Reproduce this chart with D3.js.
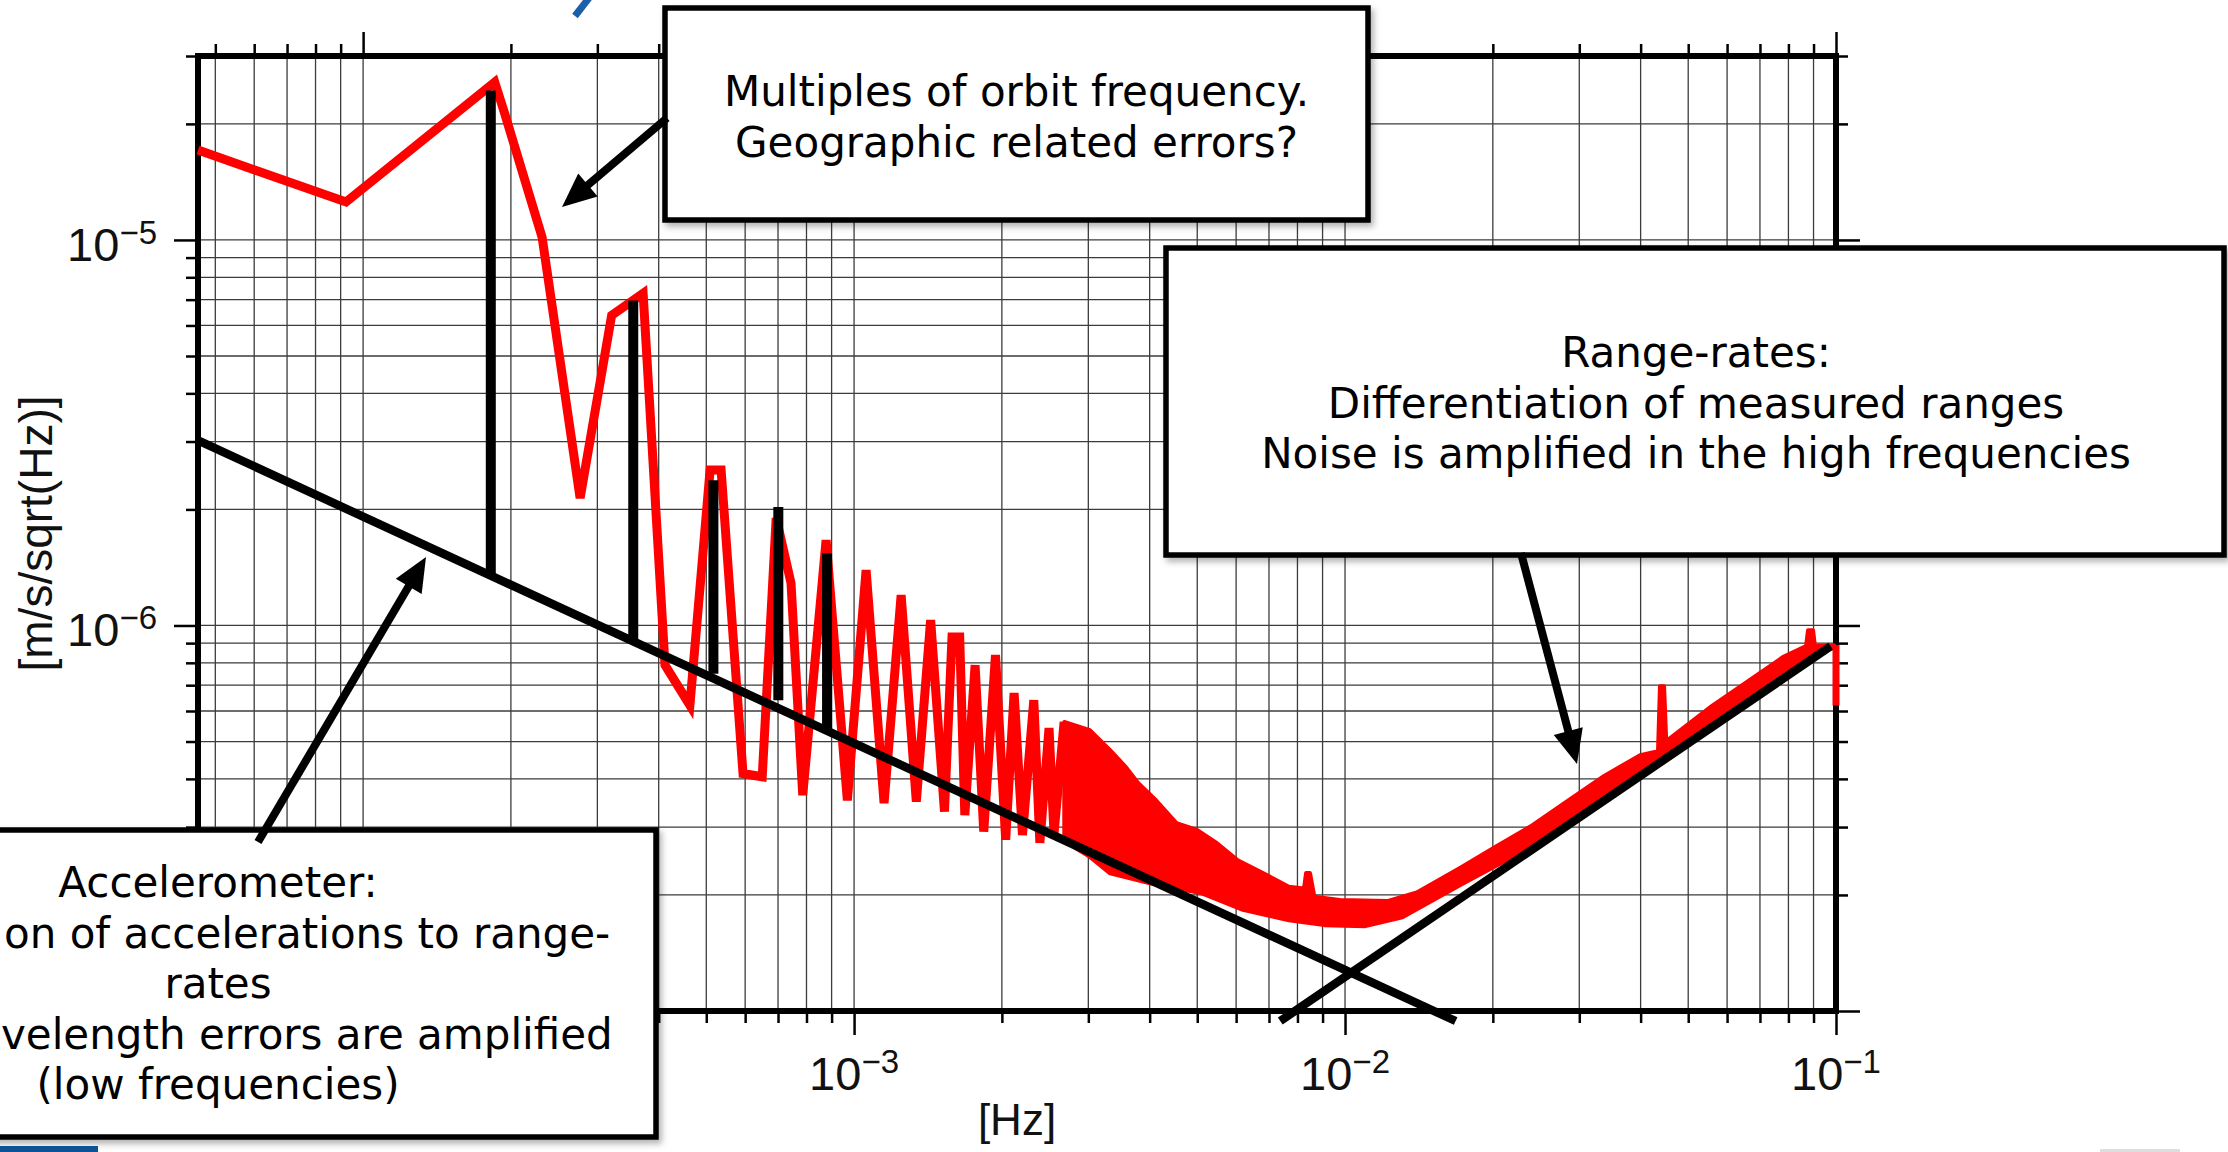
<!DOCTYPE html>
<html>
<head>
<meta charset="utf-8">
<script src="https://cdn.jsdelivr.net/npm/d3@7"></script>
<style>
  body { margin: 0; background: #fff; }
  svg { display: block; }
</style>
</head>
<body>
<svg id="chart"></svg>
<script>
// ---- data ----
var xDomain = [4.61e-5, 1e-1];          // [Hz]
var yDomain = [1e-7, 3e-5];             // [m/s/sqrt(Hz)]
var xLabelled = [1e-3, 1e-2, 1e-1];
var yLabelled = [1e-6, 1e-5];

// range-rate PSD, low frequency part (individual wiggles)
var psdLow = [
  [4.61e-5, 1.71e-5], [9.23e-5, 1.254e-5], [1.854e-4, 2.566e-5], [1.942e-4, 2.13e-5],
  [2.315e-4, 1.017e-5], [2.767e-4, 2.14e-6], [3.208e-4, 6.375e-6], [3.718e-4, 7.27e-6],
  [4.12e-4, 7.89e-7], [4.63e-4, 6.21e-7], [5.09e-4, 2.53e-6], [5.36e-4, 2.53e-6],
  [5.94e-4, 4.13e-7], [6.50e-4, 4.05e-7], [6.94e-4, 1.90e-6], [7.44e-4, 1.288e-6],
  [7.86e-4, 3.63e-7], [8.77e-4, 1.664e-6], [9.69e-4, 3.52e-7], [1.058e-3, 1.391e-6],
  [1.151e-3, 3.46e-7], [1.247e-3, 1.199e-6], [1.339e-3, 3.49e-7], [1.432e-3, 1.032e-6],
  [1.528e-3, 3.29e-7], [1.583e-3, 9.34e-7], [1.641e-3, 9.34e-7], [1.681e-3, 3.22e-7],
  [1.764e-3, 7.89e-7], [1.837e-3, 2.92e-7], [1.941e-3, 8.38e-7], [2.036e-3, 2.78e-7],
  [2.118e-3, 6.68e-7], [2.203e-3, 2.86e-7], [2.323e-3, 6.40e-7], [2.39e-3, 2.73e-7],
  [2.495e-3, 5.42e-7], [2.554e-3, 2.89e-7], [2.678e-3, 5.62e-7]
];

// dense part: upper and lower envelope of the noisy PSD
var psdBandUpper = [
  [2.68e-3, 5.62e-7], [3.022e-3, 5.35e-7], [3.323e-3, 4.75e-7], [3.573e-3, 4.30e-7],
  [3.793e-3, 3.90e-7], [4.121e-3, 3.52e-7], [4.537e-3, 3.07e-7], [4.995e-3, 2.95e-7],
  [5.495e-3, 2.72e-7], [6.047e-3, 2.46e-7], [6.82e-3, 2.275e-7], [7.685e-3, 2.10e-7],
  [8.25e-3, 2.08e-7], [8.33e-3, 2.28e-7], [8.485e-3, 2.28e-7], [8.66e-3, 1.98e-7],
  [9.76e-3, 1.94e-7], [1.224e-2, 1.93e-7], [1.40e-2, 2.03e-7], [1.714e-2, 2.35e-7],
  [2.03e-2, 2.67e-7], [2.404e-2, 3.03e-7], [2.845e-2, 3.51e-7], [3.37e-2, 4.07e-7],
  [3.99e-2, 4.61e-7], [4.34e-2, 4.72e-7], [4.38e-2, 6.96e-7], [4.465e-2, 6.96e-7],
  [4.51e-2, 5.01e-7], [5.59e-2, 6.19e-7], [6.62e-2, 7.17e-7], [7.83e-2, 8.31e-7],
  [8.69e-2, 8.84e-7], [8.77e-2, 9.72e-7], [8.98e-2, 9.72e-7], [9.06e-2, 8.84e-7],
  [9.91e-2, 8.89e-7]
];
var psdBandLower = [
  [2.68e-3, 2.86e-7], [2.818e-3, 2.65e-7], [3.022e-3, 2.51e-7], [3.323e-3, 2.275e-7],
  [4.025e-3, 2.14e-7], [5.11e-3, 2.02e-7], [6.195e-3, 1.83e-7], [7.685e-3, 1.72e-7],
  [9.08e-3, 1.67e-7], [1.10e-2, 1.66e-7], [1.309e-2, 1.75e-7], [1.714e-2, 2.12e-7],
  [2.404e-2, 2.67e-7], [3.37e-2, 3.58e-7], [3.99e-2, 4.15e-7], [5.59e-2, 5.69e-7],
  [7.83e-2, 7.63e-7], [9.59e-2, 8.66e-7], [9.91e-2, 8.75e-7]
];
var psdTail = [[1e-1, 8.9e-7], [1e-1, 6.2e-7]];

// noise models
var accelNoise = [[4.61e-5, 3.02e-6], [1.68e-2, 9.42e-8]];
var rangeNoise = [[7.38e-3, 9.42e-8], [9.75e-2, 8.83e-7]];

// multiples of orbit frequency
var orbitFreq   = [1.82e-4, 3.55e-4, 5.17e-4, 7.01e-4, 8.81e-4];
var orbitTop    = [2.44e-5, 6.97e-6, 2.38e-6, 2.03e-6, 1.54e-6];
var orbitBottom = [1.35e-6, 9.0e-7, 7.5e-7, 6.4e-7, 5.4e-7];

var xTitle = "[Hz]";
var yTitle = "[m/s/sqrt(Hz)]";
// the accelerometer box runs off the left edge of the slide: only these parts show
var noteAccel = ["Accelerometer:", "on of accelerations to range-", "rates",
                 "velength errors are amplified", "(low frequencies)"];
var noteOrbit = ["Multiples of orbit frequency.", "Geographic related errors?"];
var noteRange = ["Range-rates:", "Differentiation of measured ranges",
                 "Noise is amplified in the high frequencies"];

// ---- layout ----
var W = 2228, H = 1152;
var plot = {left: 198, right: 1836, top: 56, bottom: 1011};
var boxes = [
  {x0: -220, y0: 830, x1: 656, y1: 1137, cx: 218, base: 897, lines: noteAccel,
   leftAligned: {1: 4, 3: 1}},
  {x0: 665, y0: 8, x1: 1368, y1: 220, cx: 1016.5, base: 106, lines: noteOrbit},
  {x0: 1166, y0: 248, x1: 2224, y1: 555, cx: 1696, base: 367, lines: noteRange}
];
var arrows = [
  {from: [667, 118], to: [562, 207]},
  {from: [258, 842], to: [426, 557]},
  {from: [1521, 553], to: [1577, 764]}
];

var svg = d3.select("#chart").attr("width", W).attr("height", H)
    .attr("viewBox", "0 0 " + W + " " + H);

var defs = svg.append("defs");
var shadow = defs.append("filter").attr("id", "shadow")
    .attr("x", "-5%").attr("y", "-5%").attr("width", "115%").attr("height", "120%");
shadow.append("feDropShadow").attr("dx", 3).attr("dy", 4)
    .attr("stdDeviation", 3).attr("flood-color", "#000").attr("flood-opacity", 0.3);

var x = d3.scaleLog().domain(xDomain).range([plot.left, plot.right]);
var y = d3.scaleLog().domain(yDomain).range([plot.bottom, plot.top]);

function isDecade(v) {
  var l = Math.log10(v);
  return Math.abs(l - Math.round(l)) < 1e-6;
}
var xTicks = x.ticks(), yTicks = y.ticks();
var xMajor = xTicks.filter(isDecade), xMinor = xTicks.filter(function(d) { return !isDecade(d); });
var yMajor = yTicks.filter(isDecade), yMinor = yTicks.filter(function(d) { return !isDecade(d); });

/*
 *    G R I D
 */
var grid = svg.append("g").attr("stroke", "#3c3c3c").attr("stroke-width", 1.3);
grid.selectAll(".gx").data(xTicks).enter().append("line")
    .attr("x1", function(d) { return x(d); }).attr("x2", function(d) { return x(d); })
    .attr("y1", plot.top).attr("y2", plot.bottom);
grid.selectAll(".gy").data(yTicks).enter().append("line")
    .attr("y1", function(d) { return y(d); }).attr("y2", function(d) { return y(d); })
    .attr("x1", plot.left).attr("x2", plot.right);

/*
 *    T I C K S  (all four sides, outward)
 */
function ticks(axis, values, size, tx, ty) {
  var g = svg.append("g").attr("transform", "translate(" + tx + "," + ty + ")")
      .call(axis.tickValues(values).tickSize(size).tickFormat(""));
  g.select(".domain").remove();
  g.selectAll("line").attr("stroke", "#000").attr("stroke-width", 2.5);
}
ticks(d3.axisBottom(x), xMinor, 12, 0, plot.bottom);
ticks(d3.axisBottom(x), xMajor, 24, 0, plot.bottom);
ticks(d3.axisTop(x), xMinor, 12, 0, plot.top);
ticks(d3.axisTop(x), xMajor, 24, 0, plot.top);
ticks(d3.axisLeft(y), yMinor, 12, plot.left, 0);
ticks(d3.axisLeft(y), yMajor, 24, plot.left, 0);
ticks(d3.axisRight(y), yMinor, 12, plot.right, 0);
ticks(d3.axisRight(y), yMajor, 24, plot.right, 0);

// frame
svg.append("rect")
    .attr("x", plot.left).attr("y", plot.top)
    .attr("width", plot.right - plot.left).attr("height", plot.bottom - plot.top)
    .attr("fill", "none").attr("stroke", "#000").attr("stroke-width", 6);

/*
 *    L A B E L S
 */
var font = "'Liberation Sans', Arial, Helvetica, sans-serif";
function powerLabel(sel) {
  sel.each(function(d) {
    var t = d3.select(this);
    t.append("tspan").text("10");
    t.append("tspan").attr("dy", -17).attr("font-size", 33)
        .text("\u2212" + (-Math.round(Math.log10(d))));
  });
}
svg.append("g").selectAll("text").data(xLabelled).enter().append("text")
    .attr("x", function(d) { return x(d); })
    .attr("y", plot.bottom + 79)
    .attr("text-anchor", "middle")
    .attr("font-family", font).attr("font-size", 47).attr("fill", "#111")
    .call(powerLabel);
svg.append("g").selectAll("text").data(yLabelled).enter().append("text")
    .attr("x", 157)
    .attr("y", function(d) { return y(d) + 21; })
    .attr("text-anchor", "end")
    .attr("font-family", font).attr("font-size", 47).attr("fill", "#111")
    .call(powerLabel);

svg.append("text")
    .attr("x", (plot.left + plot.right) / 2).attr("y", 1135)
    .attr("text-anchor", "middle")
    .attr("font-family", font).attr("font-size", 44).attr("fill", "#111")
    .text(xTitle);
svg.append("text")
    .attr("transform", "translate(52," + (plot.top + plot.bottom) / 2 + ") rotate(-90)")
    .attr("text-anchor", "middle")
    .attr("font-family", font).attr("font-size", 46).attr("fill", "#111")
    .text(yTitle);

/*
 *    S E R I E S
 */
var line = d3.line()
    .x(function(d) { return x(d[0]); })
    .y(function(d) { return y(d[1]); });

svg.append("path").attr("d", line(psdLow))
    .attr("fill", "none").attr("stroke", "#ff0000").attr("stroke-width", 9);
svg.append("path")
    .attr("d", line(psdBandUpper.concat(psdBandLower.slice().reverse())) + "Z")
    .attr("fill", "#ff0000").attr("stroke", "#ff0000")
    .attr("stroke-width", 4).attr("stroke-linejoin", "round");
svg.append("path").attr("d", line(psdTail))
    .attr("fill", "none").attr("stroke", "#ff0000").attr("stroke-width", 7);

[accelNoise, rangeNoise].forEach(function(d) {
  svg.append("path").attr("d", line(d))
      .attr("fill", "none").attr("stroke", "#000").attr("stroke-width", 8.5);
});

svg.append("g").selectAll("line").data(orbitFreq).enter().append("line")
    .attr("x1", function(d) { return x(d); }).attr("x2", function(d) { return x(d); })
    .attr("y1", function(d, i) { return y(orbitBottom[i]); })
    .attr("y2", function(d, i) { return y(orbitTop[i]); })
    .attr("stroke", "#000").attr("stroke-width", 10);

/*
 *    N O T E S
 */
var lineH = 50.5;
boxes.forEach(function(b) {
  var g = svg.append("g");
  var left = b.leftAligned || {};
  g.append("rect")
      .attr("x", b.x0).attr("y", b.y0)
      .attr("width", b.x1 - b.x0).attr("height", b.y1 - b.y0)
      .attr("fill", "#fff").attr("stroke", "#000").attr("stroke-width", 5.5)
      .attr("filter", "url(#shadow)");
  g.selectAll("text").data(b.lines).enter().append("text")
      .attr("x", function(d, i) { return i in left ? left[i] : b.cx; })
      .attr("y", function(d, i) { return b.base + i * lineH; })
      .attr("text-anchor", function(d, i) { return i in left ? "start" : "middle"; })
      .attr("font-family", "'DejaVu Sans', Verdana, sans-serif")
      .attr("font-size", 42).attr("fill", "#000")
      .text(function(d) { return d; });
});

arrows.forEach(function(a) {
  var dx = a.to[0] - a.from[0], dy = a.to[1] - a.from[1];
  var len = Math.sqrt(dx * dx + dy * dy), ux = dx / len, uy = dy / len;
  var headL = 34, headW = 30;
  var bx = a.to[0] - ux * headL, by = a.to[1] - uy * headL;
  svg.append("line")
      .attr("x1", a.from[0]).attr("y1", a.from[1])
      .attr("x2", bx + ux * 2).attr("y2", by + uy * 2)
      .attr("stroke", "#000").attr("stroke-width", 8);
  svg.append("polygon")
      .attr("points", [
        [a.to[0], a.to[1]],
        [bx - uy * headW / 2, by + ux * headW / 2],
        [bx + uy * headW / 2, by - ux * headW / 2]
      ].join(" "))
      .attr("fill", "#000");
});

// slide fragments at the edges
svg.append("line").attr("x1", 575).attr("y1", 16).attr("x2", 592).attr("y2", -6)
    .attr("stroke", "#1b5fa8").attr("stroke-width", 7);
svg.append("rect").attr("x", 0).attr("y", 1146).attr("width", 98).attr("height", 6)
    .attr("fill", "#0b5394");
svg.append("rect").attr("x", 2100).attr("y", 1149).attr("width", 80).attr("height", 3)
    .attr("fill", "#dddddd");
</script>
</body>
</html>
